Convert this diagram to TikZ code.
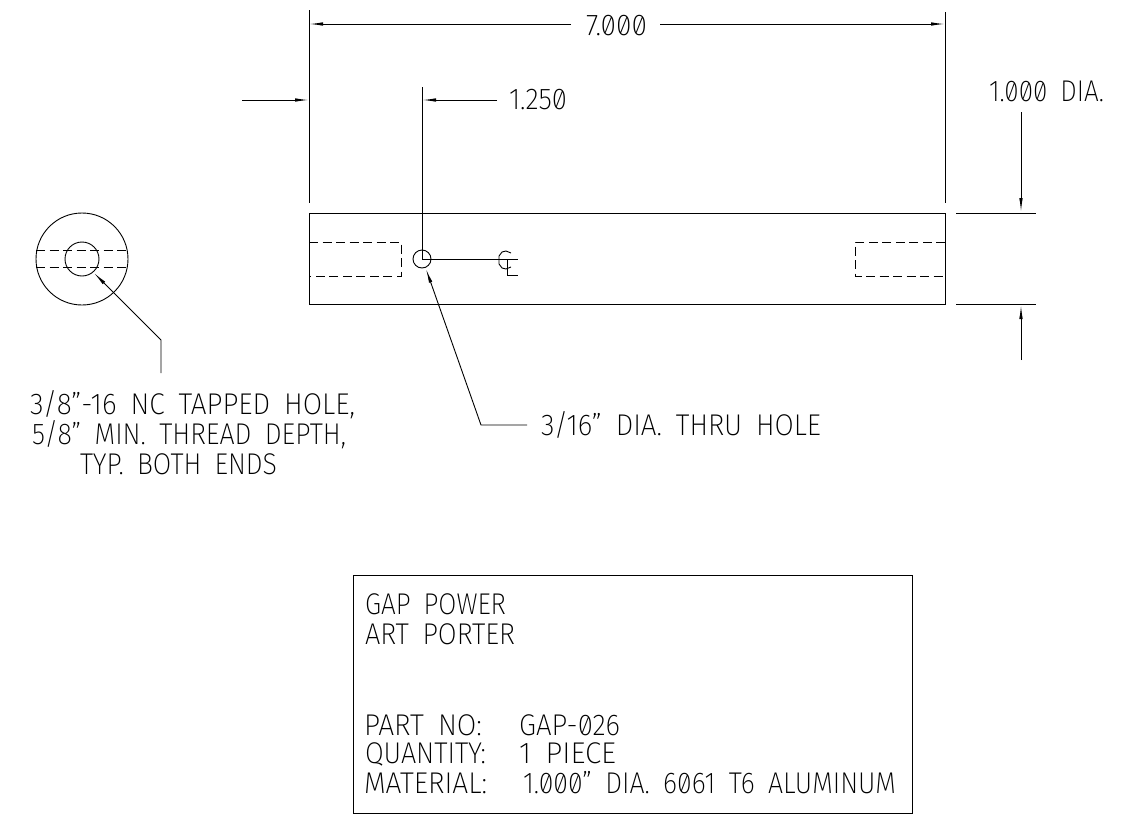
\documentclass[tikz,border=0pt]{standalone}
\usepackage{graphicx}
\usepackage{fontspec}
\setmainfont{Fira Sans}[UprightFont=* ExtraLight,Numbers=SlashedZero]
\usetikzlibrary{arrows.meta}
\newcommand{\cad}[2]{\resizebox{#1pt}{\height}{\fontsize{30}{32}\selectfont\spaceskip=.5em\relax #2}}
\tikzset{
  obj/.style={line width=1.2pt,black},
  dim/.style={line width=1pt,black},
  thin line/.style={line width=.9pt,black},
  hid/.style={line width=.9pt,black,dash pattern=on 9pt off 4.5pt},
  tip/.style={-{Latex[length=14pt,width=3.5pt]}},
  lbl/.style={anchor=base west,inner sep=0pt,outer sep=0pt,text=black},
}
\begin{document}
\begin{tikzpicture}[x=1pt,y=-1pt]
\useasboundingbox[fill=white] (0,0) rectangle (1128,825);
% part
\node[draw,obj,minimum width=636pt,minimum height=91pt,inner sep=0pt,anchor=north west] (part) at (309,213) {};
\draw[hid] (309,242) -- (401,242) -- (401,276) -- (309,276);
\draw[hid] (945,242) -- (855,242) -- (855,276) -- (945,276);
\node[draw,thin line,circle,minimum size=18pt,inner sep=0pt] (hole) at (422,259) {};
\coordinate (hc) at (422,259);
\coordinate (cle) at (518,259);
\draw[dim] (hc) -- (cle);
\draw[dim] (hc) -- (422,87);
% centre-line mark
\draw[thin line] (511,253) -- (506,251) -- (502,252) -- (499,256) -- (499,264) -- (502,268) -- (506,269) -- (511,267);
\draw[dim] (507,259) -- (507,275) -- (518,275);
% end view
\node[draw,thin line,circle,minimum size=92pt,inner sep=0pt] (end) at (82,259) {};
\node[draw,thin line,circle,minimum size=34pt,inner sep=0pt] (tap) at (82,259) {};
\draw[hid] (36,250) -- (128,250);
\draw[hid] (36,267) -- (128,267);
% extension lines
\draw[dim] (309,10) -- (309,203);
\draw[dim] (945,12) -- (945,203);
\draw[dim] (956,213) -- (1036,213);
\draw[dim] (956,304) -- (1036,304);
% dimensions
\coordinate (a7l) at (309,24); \coordinate (a7r) at (945,24);
\draw[dim,tip] (571,24) -- (a7l);
\draw[dim,tip] (660,24) -- (a7r);
\draw[dim,tip] (242,100) -- (309,100);
\draw[dim,tip] (497,100) -- (422,100);
\draw[dim,tip] (1021,112) -- (1021,212);
\draw[dim,tip] (1021,360) -- (1021,305);
% leaders
\draw[thin line,tip] (161,373) -- (161,340) -- (94,273);
\draw[thin line,tip] (527,425) -- (481,425) -- (426,269);
% title block
\node[draw,obj,minimum width=559pt,minimum height=238pt,inner sep=0pt,anchor=north west] (block) at (353,575) {};
% labels
\node[lbl] (t7) at (586,35) {\cad{61}{7.000}};
\node[lbl] (t125) at (509,109) {\cad{58}{1.250}};
\node[lbl] (t1d) at (989,101) {\cad{115}{1.000 DIA.}};
\node[lbl] (n1) at (30,414) {\cad{325}{3/8"-16 NC TAPPED HOLE,}};
\node[lbl] (n2) at (32,444) {\cad{314}{5/8" MIN. THREAD DEPTH,}};
\node[lbl] (n3) at (80,474) {\cad{197}{TYP. BOTH ENDS}};
\node[lbl] (n4) at (541,435) {\cad{280}{3/16" DIA. THRU HOLE}};
\node[lbl] (b1) at (365,614) {\cad{141}{GAP POWER}};
\node[lbl] (b2) at (365,644) {\cad{150}{ART PORTER}};
\node[lbl] (b3) at (364,735) {\cad{118}{PART NO:}};
\node[lbl] (b4) at (519,735) {\cad{101}{GAP-026}};
\node[lbl] (b5) at (365,763) {\cad{121}{QUANTITY:}};
\node[lbl] (b6) at (519,763) {\cad{97}{1 PIECE}};
\node[lbl] (b7) at (364,793) {\cad{123}{MATERIAL:}};
\node[lbl] (b8) at (523,793) {\cad{373}{1.000" DIA. 6061 T6 ALUMINUM}};
\end{tikzpicture}
\end{document}
